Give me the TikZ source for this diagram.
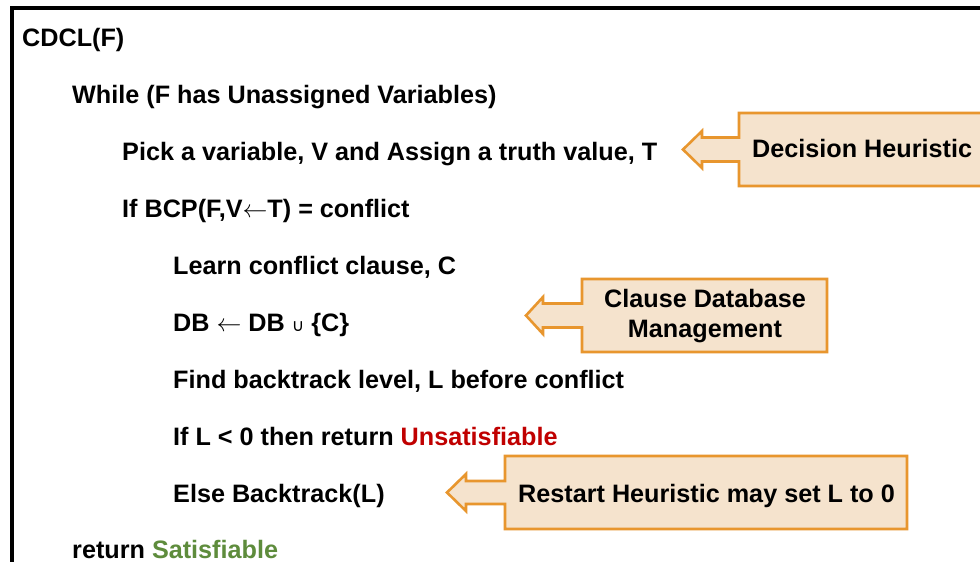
\documentclass[tikz,border=0pt]{standalone}
\usepackage{fontspec}
\setmainfont{Liberation Sans}
\newfontfamily\symfont{DejaVu Sans}
\definecolor{calloutfill}{HTML}{F5E3CD}
\definecolor{calloutdraw}{HTML}{E8962E}
\definecolor{unsatred}{HTML}{C00000}
\definecolor{satgreen}{HTML}{5E8C3C}
\newcommand{\larr}{{\fontsize{25}{25}\selectfont$\leftarrow$}}
\newcommand{\cupsym}{{\fontseries{m}\symfont\fontsize{17}{17}\selectfont ∪}}
\tikzset{
  code/.style={anchor=base west, inner sep=0pt, font=\fontsize{25.2}{30}\selectfont\bfseries},
  calltext/.style={inner sep=0pt, font=\fontsize{25.2}{30}\selectfont\bfseries},
  callout/.style={draw=calloutdraw, fill=calloutfill, line width=2.6pt, line join=miter},
  frame/.style={draw=black, line width=3.4pt}
}
\begin{document}
\begin{tikzpicture}[x=1pt,y=-1pt]
\useasboundingbox (0,0) rectangle (980,562);
\clip (0,0) rectangle (980,562);
\fill[white] (0,0) rectangle (980,562);
% outer frame
\draw[frame] (12,620) -- (12,8) -- (1040,8);
% code lines
\node[code] (l1) at (22,46) {CDCL(F)};
\node[code] (l2) at (72,103) {While (F has Unassigned Variables)};
\node[code] (l3) at (122,160.5) {Pick a variable, V and Assign a truth value, T};
\node[code] (l4) at (122,217) {If BCP(F,V\larr T) = conflict};
\node[code] (l5) at (173,274.5) {Learn conflict clause, C};
\node[code] (l6) at (173,331.5) {DB \larr\ DB \cupsym\ \{C\}};
\node[code] (l7) at (173,388) {Find backtrack level, L before conflict};
\node[code] (l8) at (173,445) {If L {\textless} 0 then return \textcolor{unsatred}{Unsatisfiable}};
\node[code] (l9) at (173,502) {Else Backtrack(L)};
\node[code] (l10) at (72,558) {return \textcolor{satgreen}{Satisfiable}};
% callout 1: Decision Heuristic
\draw[callout] (1040,113) -- (739,113) -- (739,137.5) -- (702,137.5) -- (702,131) -- (683,149.5)
  -- (702,168) -- (702,161.5) -- (739,161.5) -- (739,186) -- (1040,186) -- cycle;
\node[calltext, anchor=base west] (dh) at (752,157) {Decision Heuristic};
% callout 2: Clause Database Management
\draw[callout] (827,279) -- (582,279) -- (582,303.5) -- (543,303.5) -- (543,297) -- (526,315.5)
  -- (543,334) -- (543,327.5) -- (582,327.5) -- (582,352) -- (827,352) -- cycle;
\node[calltext, anchor=base] (cdb1) at (705,307) {Clause Database};
\node[calltext, anchor=base] (cdb2) at (705,337) {Management};
% callout 3: Restart Heuristic
\draw[callout] (907,456) -- (505,456) -- (505,481) -- (466,481) -- (466,474) -- (447,492.5)
  -- (466,511) -- (466,504) -- (505,504) -- (505,529) -- (907,529) -- cycle;
\node[calltext, anchor=base west] (rh) at (518,502) {Restart Heuristic may set L to 0};
\end{tikzpicture}
\end{document}
